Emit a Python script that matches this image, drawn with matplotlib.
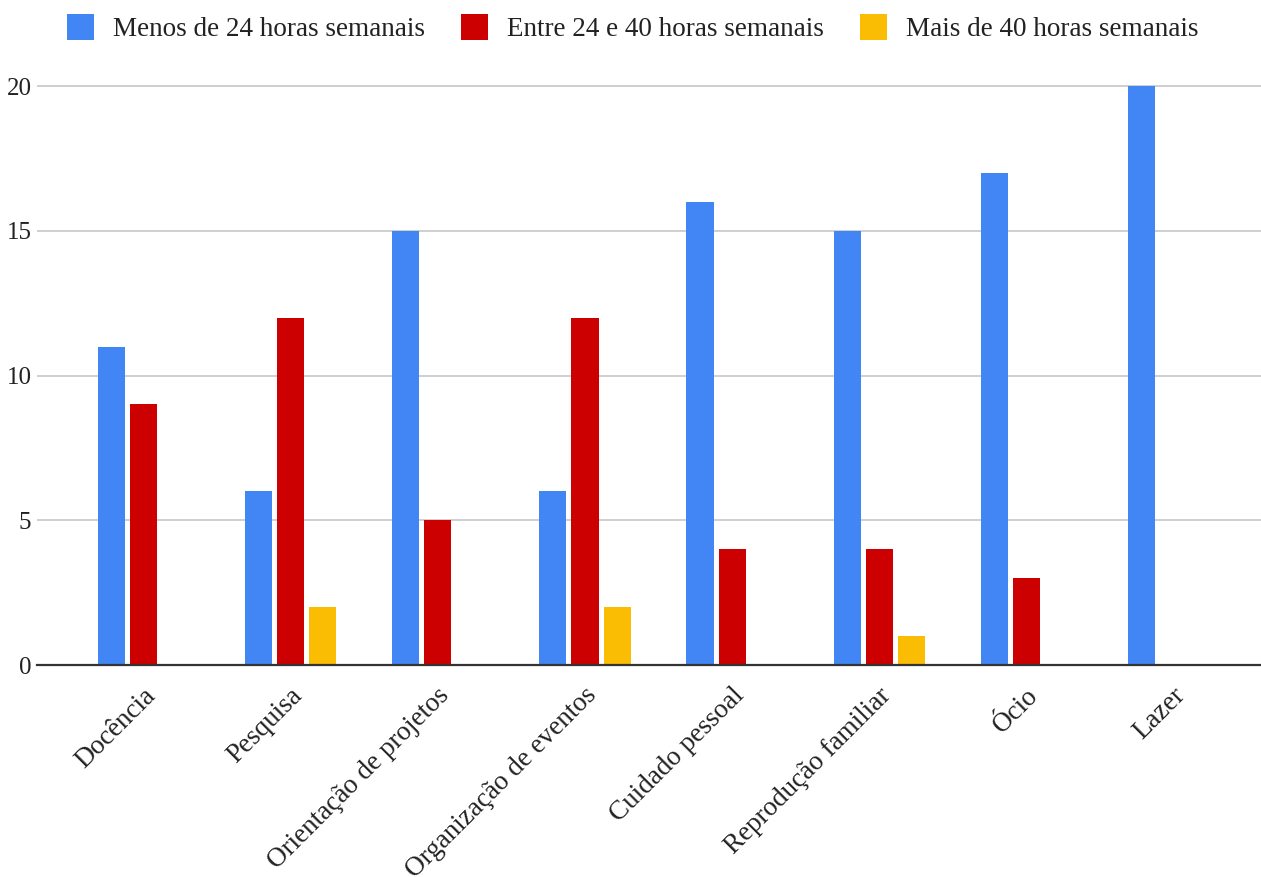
import matplotlib
matplotlib.use("Agg")
import matplotlib.pyplot as plt
import numpy as np

categories = ["Docência", "Pesquisa", "Orientação de projetos", "Organização de eventos",
              "Cuidado pessoal", "Reprodução familiar", "Ócio", "Lazer"]
series_names = ["Menos de 24 horas semanais", "Entre 24 e 40 horas semanais",
                "Mais de 40 horas semanais"]
menos_24 = [11, 6, 15, 6, 16, 15, 17, 20]
entre_24_40 = [9, 12, 5, 12, 4, 4, 3, 0]
mais_40 = [0, 2, 0, 2, 0, 1, 0, 0]
y_ticks = [0, 5, 10, 15, 20]

colors = ["#4285F4", "#CC0000", "#FBBC04"]

plt.rcParams["font.family"] = ["Liberation Serif", "DejaVu Serif"]

fig = plt.figure(figsize=(12.61, 8.77), dpi=100)
ax = fig.add_axes([0.0293, 0.2417, 0.9707, 0.6899])

x = np.arange(len(categories))
width = 0.184
step = 0.218
for i, (vals, name, col) in enumerate(zip([menos_24, entre_24_40, mais_40], series_names, colors)):
    ax.bar(x + (i - 1) * step + 0.005, vals, width=width, color=col, label=name, zorder=3)

ax.set_xlim(-0.72, 7.6)
ax.set_ylim(0, 20.9)
ax.set_yticks(y_ticks)
ax.set_yticklabels([str(v) for v in y_ticks], fontsize=18, color="#222222")
ax.tick_params(axis="y", length=0, pad=4)
ax.tick_params(axis="x", length=0, pad=13)
ax.set_xticks(x)
ax.set_xticklabels(categories, fontsize=19.5, rotation=45, ha="right",
                   rotation_mode="anchor", color="#222222")

ax.grid(axis="y", color="#cccccc", linewidth=1.3, zorder=0)
for s in ["top", "right", "left"]:
    ax.spines[s].set_visible(False)
ax.spines["bottom"].set_color("#333333")
ax.spines["bottom"].set_linewidth(1.6)
ax.spines["bottom"].set_zorder(4)

fig.legend(loc="upper center", bbox_to_anchor=(0.502, 1.012), ncol=3, frameon=False,
           fontsize=19.5, handlelength=1.0, handleheight=1.1, handletextpad=0.7,
           columnspacing=1.33, labelcolor="#222222")

fig.savefig("out.png", dpi=100)
